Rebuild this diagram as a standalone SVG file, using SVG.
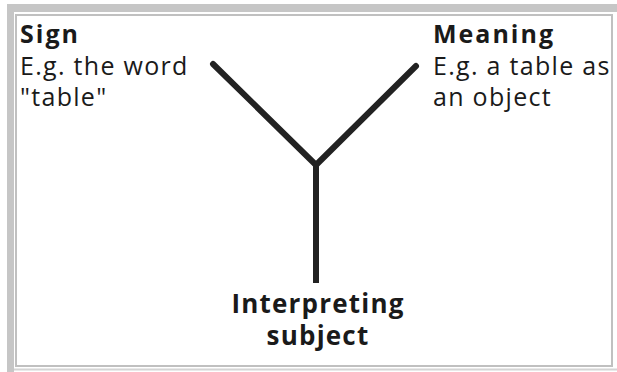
<svg xmlns="http://www.w3.org/2000/svg" width="617" height="372" viewBox="0 0 617 372">
<style>
.t{font-family:"Open Sans","Noto Sans","Liberation Sans",sans-serif;font-size:25px;fill:#1a1a1a;letter-spacing:1.3px}
.b{font-weight:bold;letter-spacing:2px}
.c{text-anchor:middle;font-size:26px;letter-spacing:1.2px}
.ln{stroke:#222;stroke-width:6;fill:none}
</style>
<rect width="617" height="372" fill="#fff"/>
<g id="frame">
<path d="M7 4H617V12H14V372H7Z" fill="#c6c6c6"/>
<rect x="16" y="15" width="596" height="351" fill="#fff" stroke="#c0c0c0" stroke-width="2"/>
<line x1="14" y1="369.5" x2="617" y2="369.5" stroke="#d4d4d4" stroke-width="2"/>
</g>
<g id="connectors">
<path class="ln" d="M213 64L316 165" stroke-linecap="round"/>
<path class="ln" d="M416 66L316 165" stroke-linecap="round"/>
<path class="ln" d="M316 163V283"/>
</g>
<g id="sign">
<text class="t b" x="20" y="43">Sign</text>
<text class="t" x="20" y="75">E.g. the word</text>
<text class="t" x="20" y="106">"table"</text>
</g>
<g id="meaning">
<text class="t b" x="433" y="43">Meaning</text>
<text class="t" x="433" y="75">E.g. a table as</text>
<text class="t" x="433" y="106">an object</text>
</g>
<g id="subject">
<text class="t b c" x="318" y="313">Interpreting</text>
<text class="t b c" x="318" y="345">subject</text>
</g>
</svg>
